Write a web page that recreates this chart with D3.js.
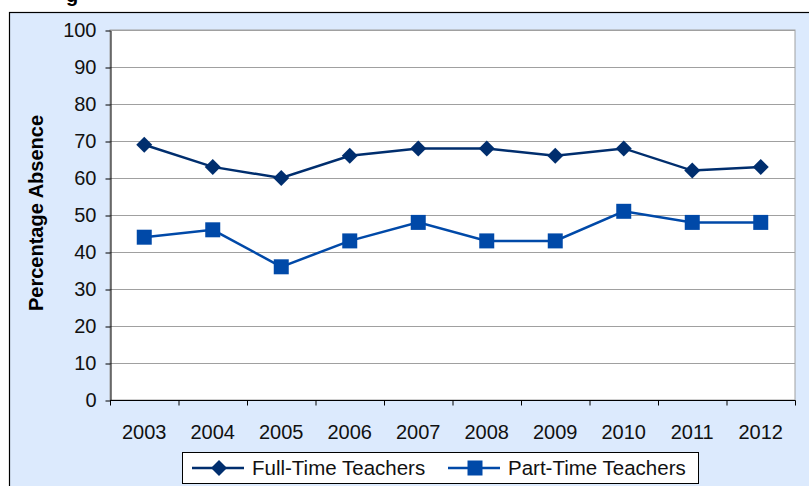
<!DOCTYPE html>
<html>
<head>
<meta charset="utf-8">
<script src="https://cdn.jsdelivr.net/npm/d3@7"></script>
<style>
  body { margin: 0; background: #fff; }
  text { font-family: "Liberation Sans", Arial, sans-serif; }
</style>
</head>
<body>
<script>
const years = ['2003', '2004', '2005', '2006', '2007', '2008', '2009', '2010', '2011', '2012'];
const fullTime = [69, 63, 60, 66, 68, 68, 66, 68, 62, 63];
const partTime = [44, 46, 36, 43, 48, 43, 43, 51, 48, 48];
const yTicks = [0, 10, 20, 30, 40, 50, 60, 70, 80, 90, 100];

const svgSize = { width: 809, height: 486 };
const plot = { left: 110, top: 30, right: 795, bottom: 400 };

const svg = d3.select('body')
  .append('svg')
  .attr('width', svgSize.width)
  .attr('height', svgSize.height);

// cut-off title fragment
svg.append('text')
  .attr('x', 66).attr('y', 2)
  .attr('font-size', 20).attr('font-weight', 'bold')
  .text('g');

// chart background
svg.append('rect')
  .attr('x', 9.5).attr('y', 12.5)
  .attr('width', 820).attr('height', 500)
  .attr('fill', '#dceafd')
  .attr('stroke', '#000')
  .attr('stroke-width', 1.2);

svg.append('rect')
  .attr('x', plot.left).attr('y', plot.top)
  .attr('width', plot.right - plot.left).attr('height', plot.bottom - plot.top)
  .attr('fill', '#fff')
  .attr('stroke', '#a0a0a0');

const xScale = d3.scaleBand()
  .domain(years)
  .range([plot.left, plot.right]);
const yScale = d3.scaleLinear()
  .domain([0, 100])
  .range([plot.bottom, plot.top]);

// gridlines
svg.append('g')
  .selectAll('line')
  .data(yTicks.slice(1))
  .join('line')
  .attr('x1', plot.left).attr('x2', plot.right)
  .attr('y1', d => yScale(d) + 0.5).attr('y2', d => yScale(d) + 0.5)
  .attr('stroke', '#a0a0a0');

// y axis
const yAxis = svg.append('g')
  .attr('transform', `translate(${plot.left + 0.5},0.5)`)
  .call(d3.axisLeft(yScale).tickValues(yTicks).tickSize(5).tickSizeOuter(0).tickPadding(9));
yAxis.select('.domain').attr('stroke', '#000');
yAxis.selectAll('.tick text')
  .attr('font-size', 20)
  .attr('font-family', '"Liberation Sans", Arial, sans-serif')
  .attr('fill', '#111');

// x axis with ticks between categories
const xAxis = svg.append('g')
  .attr('transform', `translate(0,${plot.bottom + 0.5})`);
xAxis.append('line')
  .attr('x1', plot.left).attr('x2', plot.right + 0.5)
  .attr('stroke', '#000');
xAxis.selectAll('line.tk')
  .data(years.concat(['end']))
  .join('line')
  .attr('class', 'tk')
  .attr('x1', (d, i) => (i < years.length ? xScale(d) : plot.right) + 0.5)
  .attr('x2', (d, i) => (i < years.length ? xScale(d) : plot.right) + 0.5)
  .attr('y1', 0).attr('y2', 5)
  .attr('stroke', '#000');
xAxis.selectAll('text')
  .data(years)
  .join('text')
  .attr('x', d => xScale(d) + xScale.bandwidth() / 2)
  .attr('y', 38)
  .attr('text-anchor', 'middle')
  .attr('font-size', 20)
  .attr('fill', '#111')
  .text(d => d);

// y title
svg.append('text')
  .attr('transform', `translate(43,${(plot.top + plot.bottom) / 2 - 2}) rotate(-90)`)
  .attr('text-anchor', 'middle')
  .attr('font-size', 20)
  .attr('font-weight', 'bold')
  .text('Percentage Absence');

const cx = (d, i) => xScale(years[i]) + xScale.bandwidth() / 2;
const line = d3.line()
  .x(cx)
  .y(d => yScale(d));

// diamond = square turned 45 degrees
const series = [
  { name: 'Full-Time Teachers', values: fullTime, color: '#002e6e', size: 128, rot: 45 },
  { name: 'Part-Time Teachers', values: partTime, color: '#0049a8', size: 225, rot: 0 }
];

series.forEach(s => {
  svg.append('path')
    .attr('d', line(s.values))
    .attr('fill', 'none')
    .attr('stroke', s.color)
    .attr('stroke-width', 2.5);
  svg.append('g')
    .selectAll('path')
    .data(s.values)
    .join('path')
    .attr('transform', (d, i) => `translate(${cx(d, i)},${yScale(d)}) rotate(${s.rot})`)
    .attr('d', d3.symbol().type(d3.symbolSquare).size(s.size))
    .attr('fill', s.color);
});

// legend
const legend = svg.append('g');
legend.append('rect')
  .attr('x', 182.5).attr('y', 452.5)
  .attr('width', 516).attr('height', 31)
  .attr('fill', '#fff')
  .attr('stroke', '#000');
const legendX = [192, 448];
series.forEach((s, i) => {
  const g = legend.append('g').attr('transform', `translate(${legendX[i]},468)`);
  g.append('line')
    .attr('x1', 0).attr('x2', 52)
    .attr('stroke', s.color).attr('stroke-width', 2.5);
  g.append('path')
    .attr('transform', `translate(27,0) rotate(${s.rot})`)
    .attr('d', d3.symbol().type(d3.symbolSquare).size(s.size))
    .attr('fill', s.color);
  g.append('text')
    .attr('x', 60).attr('y', 7)
    .attr('font-size', 20.5)
    .attr('fill', '#111')
    .text(s.name);
});
</script>
</body>
</html>
